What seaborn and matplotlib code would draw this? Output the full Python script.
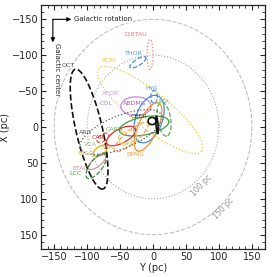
import numpy as np
import pandas as pd
import matplotlib
matplotlib.use("Agg")
import matplotlib.pyplot as plt
from matplotlib.ticker import MultipleLocator
import seaborn as sns

# ellipses: centre (Y, X), semi-axes a, b (pc), angle (deg) in the Y-X plane
ell_names = ['118TAU', 'THOR', 'PCRI', 'ABDMG', 'HYA', 'UMA', 'BIGBLUE', 'BPMG',
             'CARN', 'CAR', 'CARD', 'TWA', 'THA', 'EPSC', 'ETAC', 'LCC', 'OCT',
             'ARG', 'CBER1', 'CBER2']
ell_cy = [-4.5, -23, -4.5, -26, 1.5, 16.7, -6, -7.6, -13.6, -48.5, -76, -33, -39,
          -80, -85, -86, -97, -48.5, -1.5, 6]
ell_cx = [-101, -90, -23.6, -29, -42, -11, -11, 0, -1.4, 12.5, 15, 14, 14,
          33, 49, 54, 3, 7, -8.3, -3]
ell_a = [21, 14, 97, 23, 9, 24, 35, 37, 38, 24, 10, 32, 14, 12, 16, 22, 86, 66, 6, 12]
ell_b = [4.5, 4.5, 26, 13, 5, 10, 20, 14.5, 12.5, 10, 5, 9, 9, 6, 6, 9, 20, 23, 5, 1.5]
ell_ang = [90, -30, 36, 0, 90, 80, 113, 116.6, -10, -25, -30, -37, -20, -30, -35,
           -50, 75.8, -20, 0, 85]
ell_color = ['#f07878', '#4a8fd6', '#e8c83a', '#c58ad8', '#4a8fd6', '#5aa85a',
             '#4a8fd6', '#f5922f', '#3f9e3f', '#e82a2a', '#e85050', '#f5a050',
             '#ecd060', '#d9b400', '#c49a9a', '#3a8a3a', '#111111', '#555555',
             '#111111', '#111111']
ell_ls = [':', '--', ':', '-', '--', '--', '-', '-', '-', '-', '--', '--', '--',
          '-', '-', '--', '--', ':', '-', '-']

# group labels: position (Y, X)
lab_names = ['118TAU', 'THOR', 'PCRI', 'OCT', 'XFOR', 'COL', 'ABDMG', 'HYA', 'UMA',
             'CBER', 'CARN', 'ARG', 'CAR', 'VCA', 'TWA', 'THA', 'EPSC', 'ETAC',
             'LCC', 'BPMG']
lab_y = [-27, -29, -67, -129, -64, -71, -27, -3, 14, -21, -58, -103, -83, -95,
         -70, -39, -103, -111, -117, -27]
lab_x = [-129, -103, -92, -86, -46, -33, -33, -53, -35, -15, 3, 7, 15, 24, 29,
         24, 37.5, 58, 65, 39]
lab_color = ['#f07878', '#5b9bd5', '#e8c840', '#555555', '#c8a0e0', '#b080d0',
             '#a060c0', '#5b9bd5', '#80c080', '#444444', '#60b060', '#555555',
             '#e03030', '#80c080', '#f5a050', '#e8d060', '#e0c040', '#c09090',
             '#4a9a4a', '#f5a050']

circle_r = [100, 150]
circle_ls = [':', '--']
circle_color = ['#aaaaaa', '#c0c0c0']

sns.set_style("ticks")
plt.rcParams['font.family'] = ['DejaVu Sans']

fig = plt.figure(figsize=(2.77, 2.77), dpi=100)
ax = fig.add_axes([0.148, 0.101, 0.809, 0.881])

t = np.linspace(0, 2 * np.pi, 300)
for r, ls, c in zip(circle_r, circle_ls, circle_color):
    sns.lineplot(x=r * np.cos(t), y=r * np.sin(t), sort=False, estimator=None,
                 ax=ax, color=c, linestyle=ls, linewidth=0.8)

for cy, cx, a, b, ang, c, ls in zip(ell_cy, ell_cx, ell_a, ell_b, ell_ang,
                                    ell_color, ell_ls):
    th = np.deg2rad(ang)
    yy = cy + a * np.cos(th) * np.cos(t) - b * np.sin(th) * np.sin(t)
    xx = cx + a * np.sin(th) * np.cos(t) + b * np.cos(th) * np.sin(t)
    lw = 1.2 if c == '#111111' else 0.9
    sns.lineplot(x=yy, y=xx, sort=False, estimator=None, ax=ax, color=c,
                 linestyle=ls, linewidth=lw)

for n, y, x, c in zip(lab_names, lab_y, lab_x, lab_color):
    ax.text(y, x, n, color=c, fontsize=4.5, ha='center', va='center')

ax.text(73, 82, '100 pc', color='#999999', fontsize=5.5, rotation=47,
        ha='center', va='center')
ax.text(107, 113, '150 pc', color='#999999', fontsize=5.5, rotation=47,
        ha='center', va='center')

# galactic orientation arrows
ax.annotate('', xy=(-124, -150), xytext=(-152, -150),
            arrowprops=dict(arrowstyle='-|>', color='k', lw=0.8,
                            mutation_scale=6, shrinkA=0, shrinkB=0))
ax.annotate('', xy=(-152, -118), xytext=(-152, -150),
            arrowprops=dict(arrowstyle='-|>', color='k', lw=0.8,
                            mutation_scale=6, shrinkA=0, shrinkB=0))
ax.text(-120, -150, 'Galactic rotation', fontsize=5, va='center', ha='left',
        bbox=dict(facecolor='white', edgecolor='none', pad=0.5))
ax.text(-146, -117, 'Galactic center', fontsize=5, rotation=-90, va='top',
        ha='center', bbox=dict(facecolor='white', edgecolor='none', pad=0.5))

ax.set_xlim(-170, 170)
ax.set_ylim(170, -170)
ax.xaxis.set_major_locator(MultipleLocator(50))
ax.yaxis.set_major_locator(MultipleLocator(50))
ax.xaxis.set_minor_locator(MultipleLocator(10))
ax.yaxis.set_minor_locator(MultipleLocator(10))
ax.tick_params(which='both', direction='in', top=True, right=True, labelsize=7,
               pad=2)
ax.tick_params(which='major', length=3.5, width=0.8)
ax.tick_params(which='minor', length=2, width=0.6)
for s in ax.spines.values():
    s.set_linewidth(0.9)
ax.set_xlabel('Y (pc)', fontsize=7, labelpad=1)
ax.set_ylabel('X (pc)', fontsize=7, labelpad=1)

plt.savefig('out.png', dpi=100)
